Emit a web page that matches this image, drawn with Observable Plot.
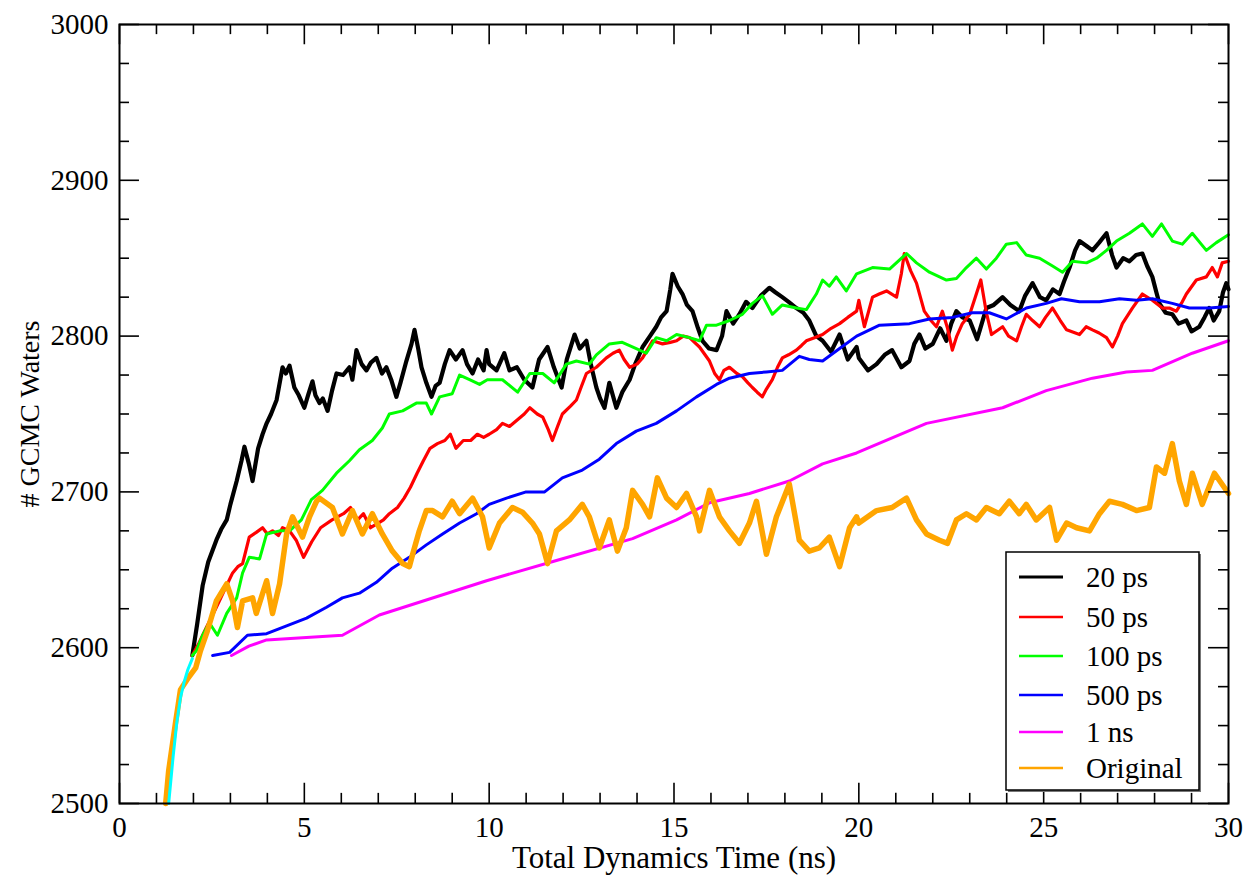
<!DOCTYPE html>
<html>
<head>
<meta charset="utf-8">
<script src="https://cdn.jsdelivr.net/npm/d3@7"></script>
<script src="https://cdn.jsdelivr.net/npm/@observablehq/plot@0.6"></script>
<style>
  html, body { margin: 0; padding: 0; background: #fff; }
  #chart { width: 1248px; height: 875px; }
</style>
</head>
<body>
<div id="chart"></div>
<script>
// ---------- data ----------
const xTicks = [0, 5, 10, 15, 20, 25, 30];
const yTicks = [2500, 2600, 2700, 2800, 2900, 3000];
const xMinor = [1,2,3,4,6,7,8,9,11,12,13,14,16,17,18,19,21,22,23,24,26,27,28,29];
const yMinor = [2525,2550,2575,2625,2650,2675,2725,2750,2775,2825,2850,2875,2925,2950,2975];

const seriesNames = ["20 ps", "50 ps", "100 ps", "500 ps", "1 ns", "Original"];
const seriesColors = ["#000000", "#ff0000", "#00ff00", "#0000ff", "#ff00ff", "#ffa500"];

const tInit = [1.33, 1.45, 1.55, 1.65, 1.75, 1.85, 1.97];
const wInit = [2500, 2530, 2552, 2568, 2578, 2586, 2593];

const t20 = [1.97,2.1,2.25,2.4,2.62,2.75,2.9,3.0,3.17,3.3,3.38,3.5,3.6,3.75,3.87,3.98,4.1,4.25,4.41,4.5,4.6,4.73,4.85,5.0,5.1,5.22,5.3,5.41,5.5,5.63,5.75,5.87,6.05,6.22,6.3,6.41,6.55,6.68,6.8,6.95,7.1,7.22,7.35,7.49,7.6,7.76,7.9,7.98,8.08,8.17,8.3,8.44,8.55,8.66,8.8,8.93,9.1,9.28,9.4,9.55,9.7,9.85,9.93,10.0,10.2,10.41,10.55,10.75,10.95,11.17,11.35,11.58,11.75,11.96,12.1,12.31,12.45,12.63,12.75,12.9,13.0,13.12,13.25,13.44,13.6,13.8,13.95,14.15,14.35,14.52,14.65,14.8,14.9,14.96,15.1,15.23,15.35,15.5,15.65,15.77,15.95,16.15,16.3,16.42,16.6,16.77,16.95,17.12,17.35,17.58,17.75,17.93,18.1,18.31,18.5,18.66,18.85,19.02,19.25,19.48,19.7,19.94,20.0,20.25,20.48,20.7,20.9,21.15,21.37,21.5,21.64,21.8,22.0,22.2,22.37,22.5,22.64,22.8,23.0,23.2,23.45,23.65,23.89,24.1,24.34,24.5,24.7,24.9,25.07,25.25,25.43,25.55,25.7,25.85,25.97,26.15,26.32,26.5,26.7,26.85,26.97,27.15,27.32,27.5,27.67,27.8,27.94,28.05,28.13,28.3,28.48,28.65,28.86,29.0,29.21,29.35,29.48,29.6,29.75,29.85,29.94,30.0];
const w20 = [2595,2615,2640,2655,2669,2676,2682,2692,2707,2720,2729,2718,2707,2728,2737,2744,2750,2759,2780,2776,2781,2767,2762,2754,2762,2771,2762,2757,2760,2752,2765,2776,2775,2780,2772,2791,2782,2778,2783,2786,2776,2780,2772,2761,2770,2784,2795,2804,2792,2780,2770,2761,2768,2770,2782,2791,2785,2791,2782,2776,2785,2778,2791,2782,2778,2789,2778,2780,2772,2767,2785,2793,2780,2767,2785,2801,2792,2797,2782,2767,2760,2754,2770,2754,2764,2772,2782,2793,2800,2806,2812,2816,2830,2840,2832,2827,2820,2816,2805,2797,2792,2791,2800,2816,2808,2814,2822,2818,2826,2831,2828,2825,2822,2818,2815,2810,2800,2797,2790,2801,2785,2793,2786,2778,2782,2788,2791,2780,2784,2795,2801,2792,2795,2805,2797,2808,2816,2812,2810,2798,2818,2820,2825,2820,2816,2826,2834,2825,2823,2830,2827,2835,2844,2855,2861,2858,2855,2860,2866,2852,2844,2850,2848,2852,2853,2845,2838,2828,2821,2815,2814,2808,2810,2803,2806,2812,2818,2810,2816,2828,2834,2830];

const t50 = [1.97,2.15,2.35,2.5,2.7,2.9,3.06,3.2,3.33,3.51,3.7,3.87,4.0,4.14,4.3,4.41,4.6,4.78,4.98,5.2,5.44,5.75,6.06,6.25,6.44,6.6,6.79,7.0,7.14,7.3,7.52,7.7,7.87,8.05,8.22,8.4,8.6,8.8,8.95,9.1,9.3,9.5,9.68,9.85,10.0,10.2,10.36,10.55,10.75,10.95,11.1,11.3,11.45,11.6,11.71,11.85,11.98,12.2,12.36,12.5,12.63,12.9,13.17,13.35,13.52,13.65,13.8,14.0,14.15,14.3,14.42,14.69,14.9,15.07,15.25,15.42,15.69,15.96,16.1,16.23,16.35,16.5,16.7,16.85,17.0,17.12,17.25,17.39,17.5,17.66,17.8,17.93,18.1,18.31,18.45,18.58,18.8,19.02,19.25,19.48,19.7,19.94,20.0,20.15,20.37,20.55,20.75,21.02,21.15,21.23,21.4,21.56,21.77,21.95,22.1,22.26,22.4,22.53,22.65,22.8,23.0,23.15,23.3,23.45,23.59,23.89,24.05,24.27,24.4,24.53,24.7,24.89,25.05,25.24,25.45,25.62,25.97,26.15,26.32,26.5,26.7,26.86,27.0,27.13,27.4,27.67,27.94,28.21,28.4,28.59,28.75,28.86,29.13,29.4,29.56,29.7,29.83,30.0];
const w50 = [2595,2603,2613,2620,2630,2640,2648,2652,2654,2671,2674,2677,2673,2675,2672,2677,2675,2669,2658,2668,2677,2682,2686,2690,2682,2686,2677,2680,2682,2686,2690,2696,2703,2712,2720,2728,2731,2733,2737,2728,2733,2733,2737,2735,2737,2740,2744,2742,2746,2750,2754,2750,2748,2740,2733,2742,2750,2755,2759,2768,2776,2780,2786,2789,2791,2785,2780,2782,2786,2792,2797,2795,2796,2797,2800,2799,2793,2784,2776,2772,2778,2780,2776,2774,2770,2767,2764,2761,2766,2772,2780,2786,2788,2791,2794,2797,2799,2801,2805,2808,2812,2816,2823,2806,2825,2827,2829,2825,2840,2853,2842,2834,2816,2810,2806,2816,2805,2791,2800,2808,2814,2825,2836,2815,2801,2806,2800,2797,2806,2814,2810,2806,2812,2818,2810,2804,2801,2806,2804,2802,2799,2793,2800,2808,2818,2827,2823,2818,2818,2816,2822,2827,2836,2838,2844,2838,2847,2848];

const t100 = [1.97,2.08,2.25,2.43,2.65,2.9,3.17,3.33,3.51,3.79,3.98,4.33,4.6,4.92,5.19,5.49,5.87,6.22,6.49,6.84,7.11,7.3,7.66,8.03,8.3,8.44,8.66,9.0,9.2,9.47,9.74,9.95,10.36,10.77,11.1,11.45,11.76,12.09,12.36,12.71,12.9,13.25,13.6,13.98,14.25,14.52,14.8,15.07,15.42,15.69,15.88,16.15,16.5,16.85,17.12,17.39,17.66,17.93,18.31,18.58,18.85,19.02,19.2,19.39,19.66,19.94,20.37,20.83,21.29,21.56,21.91,22.37,22.64,22.91,23.18,23.45,23.72,23.99,24.27,24.53,24.89,25.24,25.51,25.78,26.16,26.43,26.7,26.97,27.32,27.67,27.94,28.19,28.48,28.75,29.02,29.4,29.67,30.0];
const w100 = [2595,2598,2608,2616,2608,2622,2632,2648,2658,2657,2673,2675,2675,2682,2695,2701,2712,2720,2727,2733,2741,2750,2752,2757,2757,2750,2761,2763,2775,2772,2769,2772,2772,2764,2776,2776,2770,2782,2784,2782,2788,2795,2796,2792,2789,2799,2797,2801,2799,2797,2807,2807,2810,2814,2821,2826,2814,2820,2818,2817,2827,2836,2832,2838,2829,2840,2844,2843,2853,2847,2841,2836,2837,2844,2850,2843,2850,2859,2860,2852,2850,2845,2841,2848,2847,2850,2855,2861,2866,2872,2864,2872,2861,2859,2866,2855,2860,2865];

const t500 = [2.52,2.98,3.46,3.98,4.52,5.06,5.6,6.03,6.49,6.95,7.38,7.84,8.3,8.74,9.2,9.66,10.0,10.47,11.0,11.5,11.98,12.52,12.98,13.44,13.98,14.52,15.07,15.61,16.15,16.5,17.04,17.5,17.93,18.39,18.66,19.02,19.48,19.94,20.56,21.37,21.91,22.53,23.07,23.53,23.99,24.53,25.07,25.48,25.97,26.51,27.05,27.51,27.94,28.48,28.94,29.48,30.0];
const w500 = [2595,2597,2608,2609,2614,2619,2626,2632,2635,2642,2651,2658,2666,2673,2680,2686,2692,2696,2700,2700,2709,2714,2721,2731,2739,2744,2752,2761,2769,2773,2776,2777,2778,2787,2785,2784,2792,2800,2807,2808,2811,2812,2815,2815,2811,2818,2821,2824,2822,2822,2824,2823,2824,2821,2818,2818,2819];

const t1n = [3.03,3.5,3.98,6.03,7.03,9.93,11.82,13.88,15.07,15.96,17.04,18.12,19.02,19.94,21.83,23.89,25.07,26.32,27.24,27.94,29.02,30.0];
const w1n = [2595,2601,2605,2608,2621,2643,2656,2670,2682,2693,2699,2707,2718,2725,2744,2754,2765,2773,2777,2778,2789,2797];

const tOrig = [1.25,1.33,1.51,1.65,1.87,2.06,2.19,2.38,2.62,2.9,3.06,3.19,3.33,3.6,3.7,3.98,4.14,4.33,4.52,4.68,4.95,5.14,5.33,5.41,5.76,6.03,6.3,6.57,6.84,7.11,7.38,7.66,7.84,7.93,8.11,8.3,8.47,8.74,9.0,9.2,9.55,9.82,10.0,10.28,10.63,10.9,11.17,11.36,11.58,11.82,12.17,12.52,12.71,12.98,13.25,13.47,13.71,13.88,14.15,14.34,14.55,14.8,15.07,15.34,15.61,15.69,15.96,16.23,16.5,16.77,17.04,17.23,17.5,17.77,18.12,18.39,18.66,18.93,19.2,19.48,19.75,19.94,20.0,20.48,20.9,21.29,21.56,21.83,22.18,22.4,22.64,22.91,23.18,23.45,23.8,24.07,24.34,24.53,24.8,25.16,25.35,25.62,25.89,26.24,26.51,26.78,27.13,27.51,27.86,28.05,28.27,28.48,28.67,28.86,29.02,29.29,29.62,30.0];
const wOrig = [2500,2521,2551,2573,2581,2587,2598,2611,2630,2641,2630,2613,2630,2632,2622,2643,2622,2641,2673,2684,2671,2684,2694,2696,2690,2673,2688,2673,2686,2673,2662,2654,2652,2660,2675,2688,2688,2684,2694,2686,2696,2684,2664,2680,2690,2687,2680,2673,2654,2675,2682,2692,2684,2664,2682,2662,2677,2701,2692,2684,2709,2696,2690,2699,2684,2675,2701,2684,2675,2667,2680,2694,2660,2684,2705,2669,2662,2664,2671,2652,2677,2684,2680,2688,2690,2696,2682,2673,2669,2667,2682,2686,2682,2690,2686,2694,2686,2692,2682,2690,2669,2680,2677,2675,2686,2694,2692,2688,2690,2716,2712,2731,2707,2692,2712,2692,2712,2699];

// ---------- build tables ----------
const zip = (ts, ws) => ts.map((t, i) => ({t, w: ws[i]}));
const seriesData = [zip(t20, w20), zip(t50, w50), zip(t100, w100), zip(t500, w500), zip(t1n, w1n), zip(tOrig, wOrig)];
const initData = zip(tInit, wInit);
const seriesWidths = [4.2, 3.2, 3, 3, 3, 5.5];

// tick lengths expressed in data units (major ~20px, minor ~10px)
const xMajLen = 13, xMinLen = 6.5;       // in water units (y)
const yMajLen = 0.54, yMinLen = 0.27;    // in ns units (x)

const font = "'Liberation Serif', 'DejaVu Serif', serif";

const lineMarks = seriesData.map((d, i) =>
  Plot.line(d, {x: "t", y: "w", stroke: seriesColors[i], strokeWidth: seriesWidths[i], strokeLinejoin: "round"})
);

const chart = Plot.plot({
  width: 1248,
  height: 875,
  marginLeft: 119,
  marginRight: 20,
  marginTop: 24,
  marginBottom: 72,
  style: {fontFamily: font, fontSize: "29px", color: "black", background: "white"},
  x: {domain: [0, 30]},
  y: {domain: [2500, 3000]},
  marks: [
    ...lineMarks.slice(0, 5),
    lineMarks[5],
    Plot.line(initData, {x: "t", y: "w", stroke: "#00ffff", strokeWidth: 3}),
    // inward ticks on all four sides
    Plot.ruleX(xTicks, {x: d => d, y1: 2500, y2: 2500 + xMajLen, stroke: "black", strokeWidth: 1.6}),
    Plot.ruleX(xMinor, {x: d => d, y1: 2500, y2: 2500 + xMinLen, stroke: "black", strokeWidth: 1.6}),
    Plot.ruleX(xTicks, {x: d => d, y1: 3000, y2: 3000 - xMajLen, stroke: "black", strokeWidth: 1.6}),
    Plot.ruleX(xMinor, {x: d => d, y1: 3000, y2: 3000 - xMinLen, stroke: "black", strokeWidth: 1.6}),
    Plot.ruleY(yTicks, {y: d => d, x1: 0, x2: yMajLen, stroke: "black", strokeWidth: 1.6}),
    Plot.ruleY(yMinor, {y: d => d, x1: 0, x2: yMinLen, stroke: "black", strokeWidth: 1.6}),
    Plot.ruleY(yTicks, {y: d => d, x1: 30, x2: 30 - yMajLen, stroke: "black", strokeWidth: 1.6}),
    Plot.ruleY(yMinor, {y: d => d, x1: 30, x2: 30 - yMinLen, stroke: "black", strokeWidth: 1.6}),
    Plot.frame({stroke: "black", strokeWidth: 2}),
    Plot.axisX({ticks: xTicks, tickSize: 0, tickPadding: 13, label: null, fontSize: 29, tickFormat: d => String(d)}),
    Plot.axisY({ticks: yTicks, tickSize: 0, tickPadding: 11, label: null, fontSize: 29, tickFormat: d => String(d)}),
    Plot.text(["Total Dynamics Time (ns)"], {frameAnchor: "bottom", dy: 55, fontSize: 31, text: d => d, lineAnchor: "middle", fill: "black"}),
    Plot.text(["# GCMC Waters"], {frameAnchor: "left", dx: -89, rotate: -90, fontSize: 28, text: d => d, textAnchor: "middle", lineAnchor: "middle", fill: "black"})
  ]
});

document.getElementById("chart").appendChild(chart);

// ---------- legend inside the plot (xmgrace style) ----------
const svg = d3.select(chart);
const lg = svg.append("g").attr("font-family", font).attr("font-size", 29).attr("text-anchor", "start");
const bx = 1006, by = 552, bw = 193, bh = 238;
lg.append("rect").attr("x", bx + 2).attr("y", by + 2).attr("width", bw).attr("height", bh).attr("fill", "#777");
lg.append("rect").attr("x", bx).attr("y", by).attr("width", bw).attr("height", bh)
  .attr("fill", "white").attr("stroke", "black").attr("stroke-width", 1.5);
const rowY = [577, 617, 656, 695, 732, 768];
seriesNames.forEach((name, i) => {
  lg.append("line").attr("x1", 1019).attr("x2", 1063).attr("y1", rowY[i]).attr("y2", rowY[i])
    .attr("stroke", seriesColors[i]).attr("stroke-width", i === 0 ? 3 : 2.6);
  lg.append("text").attr("x", 1086).attr("y", rowY[i]).attr("dy", "0.35em").attr("fill", "black")
    .attr("text-anchor", "start").text(name);
});
</script>
</body>
</html>
